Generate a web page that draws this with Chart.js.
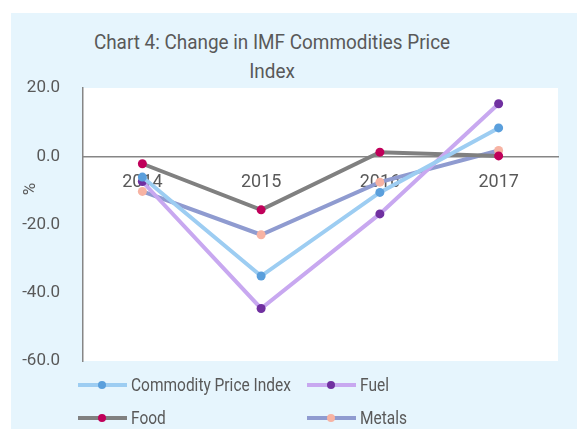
<!DOCTYPE html>
<html>
<head>
<meta charset="utf-8">
<script src="https://cdn.jsdelivr.net/npm/chart.js@4"></script>
<style>
  body { margin: 0; background: #fff; font-family: Roboto, sans-serif; }
  #box { position: absolute; left: 11px; top: 13px; width: 566px; height: 416px; background: #e6f5fd; }
  #title { position: absolute; left: 0; top: 15px; width: 522px; text-align: center; color: #595959; font-size: 21px; line-height: 29px; transform: scaleX(0.9); transform-origin: 261px 0; }
  #chartWrap { position: absolute; left: 0; top: 0; width: 566px; height: 416px; }
  #ytitle { position: absolute; left: 8px; top: 166px; width: 20px; text-align: center; color: #595959; font-size: 17px; transform: rotate(-90deg); }
  .legend { position: absolute; color: #595959; font-size: 18px; display: flex; align-items: center; }
  .legend .sw { position: relative; width: 49px; height: 4px; margin-right: 4px; flex: none; }
  .legend .dot { position: absolute; left: 20px; top: -2px; width: 8px; height: 8px; border-radius: 50%; }
  .legend .txt { display: inline-block; transform: scaleX(0.86); transform-origin: 0 50%; white-space: nowrap; }
</style>
</head>
<body>
<div id="box">
  <div id="title">Chart 4: Change in IMF Commodities Price<br>Index</div>
  <div id="chartWrap"><canvas id="chart"></canvas></div>
  <div id="ytitle">%</div>
  <div id="legend"></div>
</div>
<script>
// Data
const years = ['2014', '2015', '2016', '2017'];
const commodityIndex = [-6.1, -35.1, -10.6, 8.3];
const fuel = [-7.4, -44.6, -16.9, 15.4];
const food = [-2.2, -15.7, 1.2, 0.1];
const metals = [-10.3, -23.0, -7.6, 1.7];
const yTicks = [-60, -40, -20, 0, 20];

const series = [
  { label: 'Commodity Price Index', data: commodityIndex, line: '#9dcdf2', dot: '#5a9fdc' },
  { label: 'Fuel', data: fuel, line: '#c8a8f0', dot: '#7030a0' },
  { label: 'Food', data: food, line: '#808080', dot: '#c0005a' },
  { label: 'Metals', data: metals, line: '#8f9bd0', dot: '#f7b3a3' }
];

// white plot area
const plotBg = {
  id: 'plotBg',
  beforeDraw(chart) {
    const a = chart.chartArea;
    const ctx = chart.ctx;
    ctx.save();
    ctx.fillStyle = '#ffffff';
    ctx.fillRect(a.left, a.top, a.right - a.left, a.bottom - a.top);
    ctx.restore();
  }
};

const ctx = document.getElementById('chart').getContext('2d');
new Chart(ctx, {
  type: 'line',
  data: {
    labels: years,
    datasets: series.map(s => ({
      label: s.label,
      data: s.data,
      borderColor: s.line,
      backgroundColor: s.dot,
      pointBackgroundColor: s.dot,
      pointBorderWidth: 0,
      pointRadius: 4.5,
      borderWidth: 4,
      tension: 0
    }))
  },
  options: {
    responsive: true,
    maintainAspectRatio: false,
    animation: false,
    layout: { padding: { top: 75, right: 19, bottom: 68, left: 0 } },
    plugins: {
      legend: { display: false },
      tooltip: { enabled: false }
    },
    scales: {
      x: {
        position: { y: 0 },
        offset: true,
        grid: { display: false, drawTicks: false },
        border: { color: '#868686', width: 1.5 },
        ticks: { color: '#595959', font: { family: 'Roboto', size: 18 }, padding: 15, maxRotation: 0 }
      },
      y: {
        min: -60,
        max: 20,
        afterBuildTicks(scale) { scale.ticks = yTicks.map(v => ({ value: v })); },
        afterFit(scale) { scale.width = 72; },
        grid: { display: false, drawTicks: false },
        border: { color: '#868686', width: 1.5 },
        ticks: {
          color: '#595959',
          font: { family: 'Roboto', size: 17 },
          padding: 23,
          callback: v => v.toFixed(1)
        }
      }
    }
  },
  plugins: [plotBg]
});

// legend laid out in two columns like the reference
const legendPos = [[67, 361], [296, 361], [67, 394], [296, 394]];
const legendEl = document.getElementById('legend');
series.forEach((s, i) => {
  const item = document.createElement('div');
  item.className = 'legend';
  item.style.left = legendPos[i][0] + 'px';
  item.style.top = legendPos[i][1] + 'px';
  item.innerHTML = '<span class="sw" style="background:' + s.line + '"><span class="dot" style="background:' + s.dot + '"></span></span><span class="txt">' + s.label + '</span>';
  legendEl.appendChild(item);
});
</script>
</body>
</html>
